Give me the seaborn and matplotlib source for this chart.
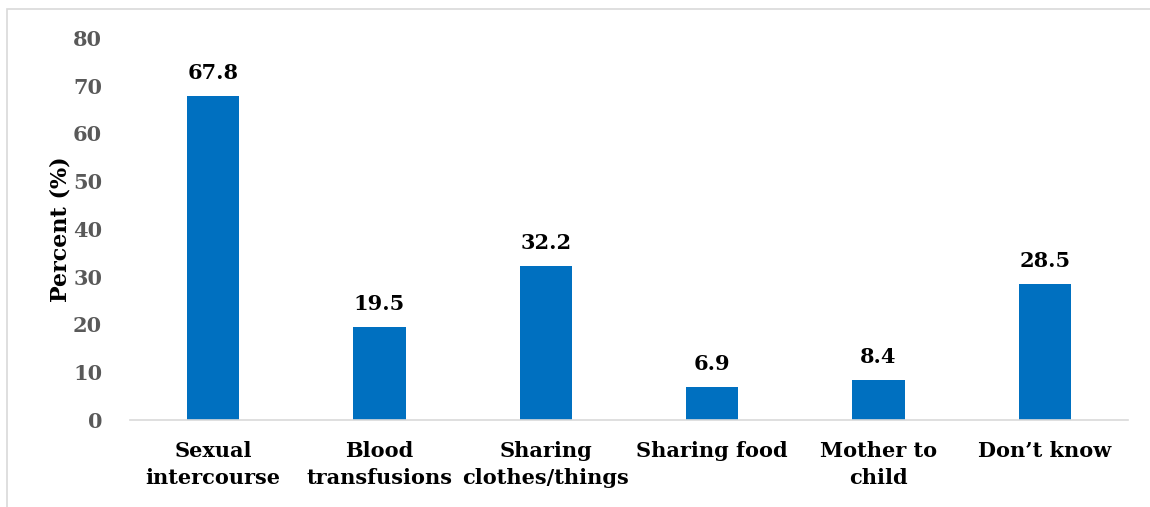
import matplotlib
matplotlib.use("Agg")
import matplotlib.pyplot as plt
import seaborn as sns
import pandas as pd
from matplotlib.patches import Rectangle

categories = ["Sexual\nintercourse", "Blood\ntransfusions", "Sharing\nclothes/things",
              "Sharing food", "Mother to\nchild", "Don\u2019t know"]
percents = [67.8, 19.5, 32.2, 6.9, 8.4, 28.5]
yticks = [0, 10, 20, 30, 40, 50, 60, 70, 80]

sns.set_theme(style="white")
plt.rcParams["font.family"] = ["DejaVu Serif"]
plt.rcParams["font.weight"] = "bold"

df = pd.DataFrame({"route": categories, "pct": percents})

fig = plt.figure(figsize=(11.5, 5.07), dpi=100)
ax = fig.add_axes([0.113, 0.1716, 0.868, 0.7535])

sns.barplot(data=df, x="route", y="pct", color="#0070C0", width=0.315,
            saturation=1, linewidth=0, ax=ax)

for i, v in enumerate(percents):
    ax.text(i, v + 2.8, f"{v:.1f}", ha="center", va="bottom",
            fontsize=15, fontweight="bold", color="black")

ax.set_ylim(0, 80)
ax.set_xlim(-0.5, 5.5)
ax.set_yticks(yticks)
ax.set_yticklabels([str(t) for t in yticks], fontsize=15, fontweight="bold", color="#595959")
ax.set_xticks(range(len(categories)))
ax.set_xticklabels(categories, fontsize=15, fontweight="bold", color="black", linespacing=1.45)
ax.tick_params(axis="y", length=0, pad=20)
ax.tick_params(axis="x", length=0, pad=15)
ax.set_xlabel("")
ax.set_ylabel("Percent (%)", fontsize=16, fontweight="bold", color="black")
ax.yaxis.set_label_coords(-0.059, 0.5)

for s in ["top", "right", "left"]:
    ax.spines[s].set_visible(False)
ax.spines["bottom"].set_color("#D9D9D9")
ax.spines["bottom"].set_linewidth(1.2)

# outer chart frame (only top and left edges visible)
fig.patches.append(Rectangle((7 / 1150, -0.1), 1.2, 1 - 9 / 507 + 0.1,
                             transform=fig.transFigure, fill=False,
                             edgecolor="#D9D9D9", linewidth=1.2))

fig.savefig("out.png", dpi=100)
